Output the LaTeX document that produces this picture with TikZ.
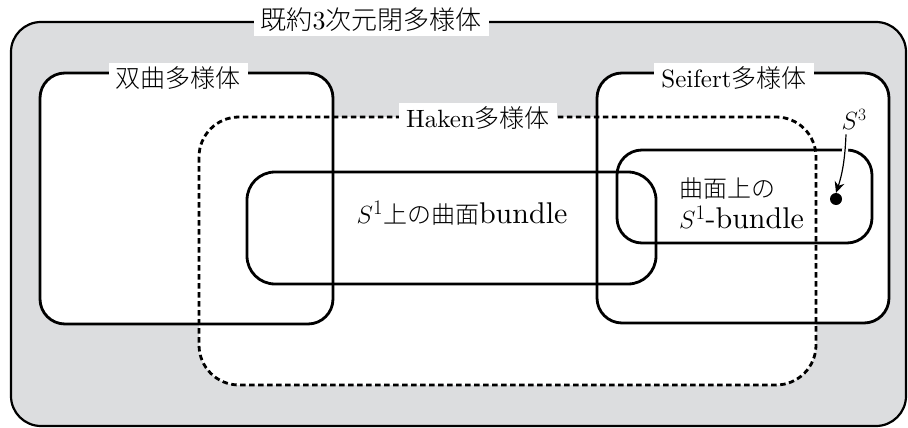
\documentclass[tikz,border=0pt]{standalone}
\usepackage{fontspec}
\setmainfont{lmroman10-regular}[Extension=.otf]
\newfontfamily\jpf{Noto Sans CJK JP Light}
\usetikzlibrary{arrows.meta}
\definecolor{outerfill}{RGB}{220,221,223}
\newcommand\jpt[1]{{\jpf #1}}
\newcommand\jps[1]{{\fontsize{24}{30}\selectfont\jpf #1}}
\begin{document}
\begin{tikzpicture}[x=1pt,y=-1pt,
  solidbox/.style={line width=2.8pt},
  dashbox/.style={line width=2.8pt, dash pattern=on 5.5pt off 3.5pt},
  lab/.style={fill=white, inner xsep=7pt, inner ysep=4pt, font=\fontsize{25}{30}\selectfont},
  txt/.style={font=\fontsize{30}{33}\selectfont}]
\useasboundingbox (0,0) rectangle (908,428);
% outer region
\fill[outerfill, rounded corners=30pt] (11,22) rectangle (906,426);
\draw[line width=2.2pt, rounded corners=30pt] (11,22) rectangle (906,426);
% white interiors
\fill[white, rounded corners=25pt] (40,73) rectangle (333,324);
\fill[white, rounded corners=40pt] (199,117) rectangle (816,385);
\fill[white, rounded corners=25pt] (597,73) rectangle (889,323);
% outlines
\draw[solidbox, rounded corners=25pt] (40,73) rectangle (333,324);
\draw[solidbox, rounded corners=25pt] (597,73) rectangle (889,323);
\draw[dashbox, rounded corners=40pt] (199,117) rectangle (816,385);
\draw[solidbox, rounded corners=28pt] (247,172) rectangle (656,284);
\draw[solidbox, rounded corners=25pt] (617,150) rectangle (872,243);
% labels
\node[lab, font=\fontsize{26}{30}\selectfont] (title) at (371,20) {\jpt{既約}3\jpt{次元閉多様体}};
\node[lab] (hyp) at (178,78) {\jpt{双曲多様体}};
\node[lab] (seif) at (734,78) {Seifert\jpt{多様体}};
\node[lab] (haken) at (478,118) {Haken\jpt{多様体}};
% inner texts
\node[txt] (fb) at (462,213) {$S^1$\jps{上の曲面}bundle};
\node[txt, align=left, anchor=west, inner sep=0pt] (sb) at (679,203) {\jps{曲面上の}\\[-2pt]$S^1$-bundle};
% S^3
\node[font=\fontsize{27}{30}\selectfont, inner sep=1pt] (s3) at (854,119) {$S^3$};
\node[circle, fill=black, inner sep=0pt, minimum size=12pt] (pt) at (836,199) {};
\draw[white, line width=6pt] (846,137) .. controls (845,160) and (842,175) .. (839,186);
\draw[line width=1.2pt, -{Stealth[length=11pt,width=10pt]}] (s3.south) ++(-8,4) coordinate (a0) (a0) .. controls (845,160) and (842,175) .. (pt.north);
\end{tikzpicture}
\end{document}
